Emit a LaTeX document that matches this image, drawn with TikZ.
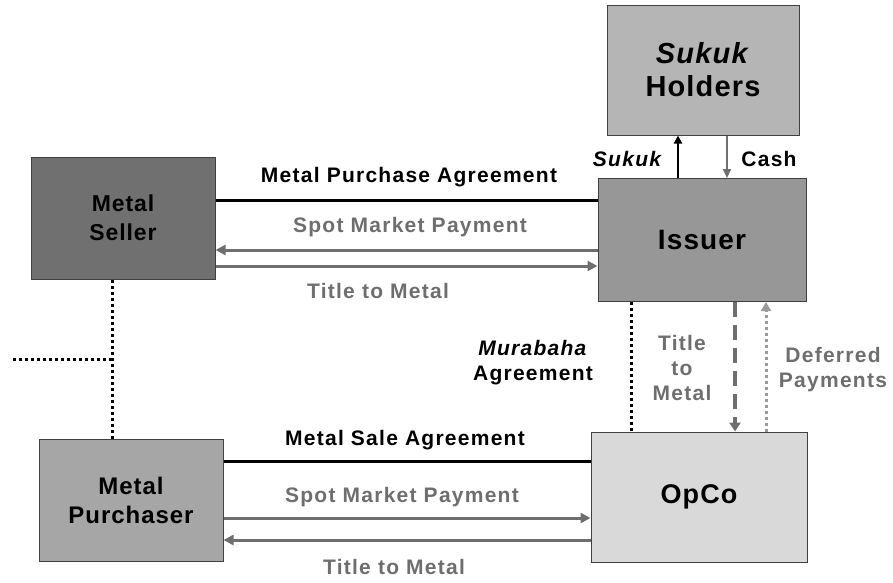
\documentclass[tikz,border=0pt]{standalone}
\usepackage{fontspec}
\setmainfont{Liberation Sans}
\newfontfamily\lblfont{Liberation Sans}[LetterSpace=6]
\newfontfamily\boxfont{Liberation Sans}[LetterSpace=4]
\usetikzlibrary{arrows.meta}
\definecolor{sellerfill}{HTML}{707070}
\definecolor{issuerfill}{HTML}{979797}
\definecolor{holderfill}{HTML}{B5B5B5}
\definecolor{buyerfill}{HTML}{A6A6A6}
\definecolor{opcofill}{HTML}{D9D9D9}
\definecolor{flowgray}{HTML}{6E6E6E}
\definecolor{lightflow}{HTML}{9A9A9A}
\tikzset{
  party/.style={draw=black!75, line width=1pt, inner sep=0pt, align=center,
    font=\boxfont\bfseries},
  agree/.style={line width=3pt, black},
  flow/.style={line width=3pt, flowgray, -{Triangle[length=10pt,width=10pt]}},
  lbl/.style={font=\lblfont\bfseries\fontsize{21}{25}\selectfont, inner sep=0pt, anchor=base},
  glbl/.style={lbl, text=flowgray},
  dotline/.style={line width=3pt, dash pattern=on 3pt off 3pt},
}
\begin{document}
\begin{tikzpicture}[x=1pt, y=-1pt]
\useasboundingbox (0,0) rectangle (893,582);

% parties
\node[party, fill=holderfill, minimum width=192pt, minimum height=130pt,
  font=\boxfont\bfseries\fontsize{29}{33}\selectfont] (holders) at (703,70)
  {\textit{Sukuk}\\Holders};
\node[party, fill=issuerfill, minimum width=208pt, minimum height=123pt,
  font=\boxfont\bfseries\fontsize{28}{32}\selectfont] (issuer) at (702,240) {Issuer};
\node[party, fill=sellerfill, minimum width=184pt, minimum height=122pt,
  font=\boxfont\bfseries\fontsize{23}{29}\selectfont] (seller) at (123,218) {Metal\\Seller};
\node[party, fill=buyerfill, minimum width=184pt, minimum height=122pt,
  font=\boxfont\bfseries\fontsize{24}{29}\selectfont] (buyer) at (131,500) {Metal\\Purchaser};
\node[party, fill=opcofill, minimum width=216pt, minimum height=130pt,
  font=\boxfont\bfseries\fontsize{27}{32}\selectfont] (opco) at (699,497) {OpCo};

% seller <-> issuer
\draw[agree] (seller.east |- 0,200) -- (issuer.west |- 0,200);
\draw[flow] (issuer.west |- 0,250) -- (seller.east |- 0,250);
\draw[flow] (seller.east |- 0,266) -- (issuer.west |- 0,266);
\node[lbl] (mpa) at (409,182) {Metal Purchase Agreement};
\node[glbl] (smp1) at (410,232) {Spot Market Payment};
\node[glbl] (ttm1) at (378,298) {Title to Metal};

% issuer <-> holders
\draw[line width=2.5pt, -{Triangle[length=8pt,width=8pt]}] (issuer.north -| 678,0) -- (holders.south -| 678,0);
\draw[line width=2pt, flowgray, -{Triangle[length=9pt,width=8pt]}] (holders.south -| 727,0) -- (issuer.north -| 727,0);
\node[lbl, font=\lblfont\bfseries\itshape\fontsize{21}{25}\selectfont] (sukuklbl) at (627,166) {Sukuk};
\node[lbl] (cashlbl) at (769,166) {Cash};

% issuer <-> opco
\draw[dotline, black] (issuer.south -| 631,0) -- (opco.north -| 631,0);
\draw[line width=4pt, flowgray, dash pattern=on 15pt off 8pt,
  -{Triangle[length=9pt,width=11pt]}] (issuer.south -| 735,0) -- (opco.north -| 735,0);
\draw[line width=3pt, lightflow, dash pattern=on 3pt off 3pt,
  -{Triangle[length=9pt,width=10pt]}] (opco.north -| 766,0) -- (issuer.south -| 766,0);
% multi-line labels: the base anchor sits on the last line
\node[lbl, align=center] (mura) at (533,380)
  {\textit{Murabaha}\\Agreement};
\node[glbl, align=center] (ttm3) at (682,400) {Title\\to\\Metal};
\node[glbl, align=center] (defer) at (833,387) {Deferred\\Payments};

% purchaser <-> opco
\draw[agree] (buyer.east |- 0,461) -- (opco.west |- 0,461);
\draw[flow] (buyer.east |- 0,518) -- (opco.west |- 0,518);
\draw[flow] (opco.west |- 0,540) -- (buyer.east |- 0,540);
\node[lbl] (msa) at (405,445) {Metal Sale Agreement};
\node[glbl] (smp2) at (402,502) {Spot Market Payment};
\node[glbl] (ttm2) at (394,574) {Title to Metal};

% seller - purchaser link and side branch
\coordinate (branch) at (112,359);
\coordinate (sideend) at (11,359);
\draw[dotline, black] (seller.south -| 112,0) -- (buyer.north -| 112,0);
\draw[dotline, black] (branch) -- (sideend);
\end{tikzpicture}
\end{document}
